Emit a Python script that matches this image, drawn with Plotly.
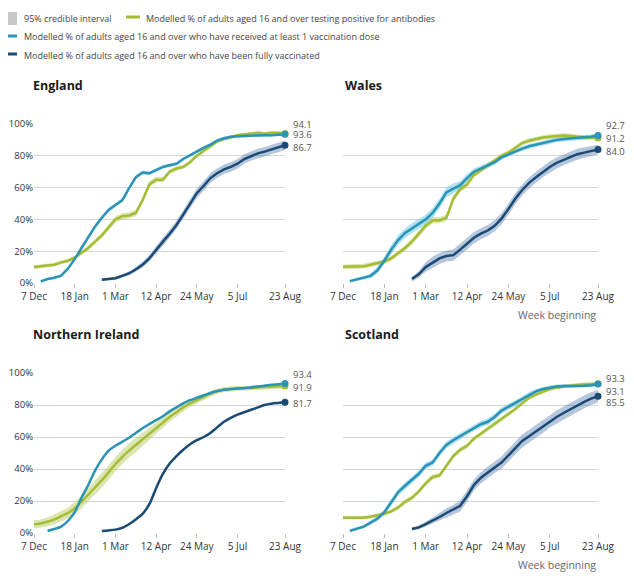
import plotly.graph_objects as go

# ---------------- data ----------------
WEEKS = ["2020-12-07", "2020-12-14", "2020-12-21", "2020-12-28", "2021-01-04", "2021-01-11",
         "2021-01-18", "2021-01-25", "2021-02-01", "2021-02-08", "2021-02-15", "2021-02-22",
         "2021-03-01", "2021-03-08", "2021-03-15", "2021-03-22", "2021-03-29", "2021-04-05",
         "2021-04-12", "2021-04-19", "2021-04-26", "2021-05-03", "2021-05-10", "2021-05-17",
         "2021-05-24", "2021-05-31", "2021-06-07", "2021-06-14", "2021-06-21", "2021-06-28",
         "2021-07-05", "2021-07-12", "2021-07-19", "2021-07-26", "2021-08-02", "2021-08-09",
         "2021-08-16", "2021-08-23"]

TICK_DATES = ["2020-12-07", "2021-01-18", "2021-03-01", "2021-04-12", "2021-05-24", "2021-07-05", "2021-08-23"]
TICK_LABELS = ["7 Dec", "18 Jan", "1 Mar", "12 Apr", "24 May", "5 Jul", "23 Aug"]
Y_TICKS = [0, 20, 40, 60, 80, 100]
Y_LABELS = ["0%", "20%", "40%", "60%", "80%", "100%"]

NATIONS = ["England", "Wales", "Northern Ireland", "Scotland"]
CI_NAME = "95% credible interval"
SERIES_NAMES = ["Modelled % of adults aged 16 and over testing positive for antibodies",
                "Modelled % of adults aged 16 and over who have received at least 1 vaccination dose",
                "Modelled % of adults aged 16 and over who have been fully vaccinated"]
N = None

# England
ENG_AB = [10, 10.5, 11, 11.5, 13, 14, 16, 19, 22, 26, 30, 35, 40, 42, 42.5, 44, 52, 62, 65, 65,
          70, 72, 73, 76, 80, 83, 86, 89, 90.5, 91.5, 93, 93.5, 94, 94.5, 94, 94.5, 94.5, 94.1]
ENG_D1 = [N, 1, 2.5, 3.3, 4.6, 9, 15, 22, 29, 35.5, 41, 46, 49, 52, 59.5, 66.5, 69.5, 69, 71, 73,
          74, 75, 78, 80.5, 83, 85, 87, 89.5, 91, 92, 92.3, 92.5, 93, 93, 93, 93, 93.3, 93.6]
ENG_FV = [N, N, N, N, N, N, N, N, N, N, 2, 2.5, 3, 4.5, 6, 8.5, 11.5, 15.5, 21, 26,
          31, 36.5, 43, 50, 56.5, 61, 66, 69, 71.5, 73, 75, 78, 80, 81.5, 82.6, 84, 85.4, 86.7]
ENG_AB_HW = [1.2, 1.2, 1.2, 1.2, 1.2, 1.2, 1.2, 1.3, 1.4, 1.5, 1.6, 1.8, 2, 2, 2, 2, 2, 2, 1.8, 1.6,
             1.5, 1.4, 1.3, 1.2, 1.2, 1.1, 1, 1, 1, 1, 1, 1, 1, 1, 1, 1, 1, 1]
ENG_D1_HW = [0, 0.8, 0.8, 0.8, 0.8, 1, 1, 1.2, 1.2, 1.2, 1.2, 1.2, 1.2, 1.2, 1.2, 1.2, 1.2, 1.2, 1.1, 1,
             1, 1, 1, 1, 1, 1, 1, 1, 1, 1, 1, 1, 1, 1, 1, 1, 1, 1]
ENG_FV_HW = [0, 0, 0, 0, 0, 0, 0, 0, 0, 0, 0.8, 0.8, 1, 1, 1.2, 1.5, 1.8, 2, 2.2, 2.4,
             2.5, 2.6, 2.8, 3, 3, 3, 3, 3, 3, 3, 3, 3, 3, 3, 3, 3, 3, 3]

# Wales
WAL_AB = [10.2, 10.3, 10.4, 10.6, 11.5, 12.5, 13.5, 15.5, 18.5, 22, 26, 31, 36, 39.5, 39.5, 41, 53, 59, 62, 68,
          71, 74, 77, 80, 82, 85, 88, 89.5, 90.5, 91.5, 92, 92.5, 92.7, 92.5, 92, 91.5, 91.5, 91.2]
WAL_D1 = [N, 1.2, 2.3, 3.2, 4.5, 8, 14, 21, 27, 31.5, 34.5, 37, 40, 44, 50, 57, 59.5, 61.5, 66, 70,
          72, 74, 76, 79, 81, 83, 84.5, 86, 87, 88, 89, 90, 90.5, 91, 91.3, 91.6, 92, 92.7]
WAL_FV = [N, N, N, N, N, N, N, N, N, N, 2.5, 5.5, 10, 13, 15.5, 17, 17.5, 21, 24.5, 28.5,
          31, 33, 36, 40.5, 46.5, 53, 58.5, 63, 66.5, 70, 73, 75.5, 77.5, 79.5, 81, 82, 83, 84]
WAL_AB_HW = [1.5, 1.5, 1.5, 1.5, 1.5, 1.5, 1.5, 1.5, 1.6, 1.8, 2, 2, 2, 2, 2, 2, 2, 2, 1.8, 1.6,
             1.5, 1.5, 1.5, 1.5, 1.5, 1.5, 1.5, 1.5, 1.5, 1.5, 1.5, 1.5, 1.5, 1.5, 1.5, 1.5, 1.5, 1.5]
WAL_D1_HW = [0, 1, 1, 1.2, 1.5, 2, 2.5, 3, 3, 3, 3, 3, 3, 3, 3, 3, 3, 2.5, 2.5, 2,
             2, 1.8, 1.6, 1.5, 1.5, 1.5, 1.5, 1.5, 1.5, 1.5, 1.5, 1.5, 1.5, 1.5, 1.5, 1.5, 1.5, 1.5]
WAL_FV_HW = [0, 0, 0, 0, 0, 0, 0, 0, 0, 0, 1.5, 2, 3, 3.5, 3.5, 3.5, 3.5, 3.5, 3.5, 3.5,
             3.5, 3.5, 3.5, 3.5, 3.5, 3.5, 3.5, 3.5, 3.5, 3.5, 3.5, 3.5, 3.5, 3.5, 3.5, 3.2, 3, 3]

# Northern Ireland
NI_AB = [5.4, 6, 7, 8.5, 10.5, 12.5, 15.5, 19.5, 24, 28.5, 33, 38, 43, 47.5, 51.5, 55, 58.5, 62, 65.5, 69,
         72.5, 75.5, 78.5, 81, 83, 85, 87, 88.5, 89.5, 90, 90.3, 90.5, 90.7, 91, 91.2, 91.4, 91.7, 91.9]
NI_D1 = [N, N, 1.3, 2.5, 4, 7.5, 13, 22, 30, 39, 46, 51.5, 54.5, 57, 59.5, 62.5, 65.5, 68, 70.5, 73,
         76, 78.5, 81, 83, 84.5, 86, 87.5, 88.7, 89.5, 90, 90.3, 90.7, 91, 91.5, 92, 92.6, 93, 93.4]
NI_FV = [N, N, N, N, N, N, N, N, N, N, 1.3, 1.6, 2.1, 3.2, 5.5, 8.5, 12, 18, 28, 37,
         43.5, 48, 52, 55.5, 58, 60, 62.5, 66, 69.5, 72, 74, 75.5, 77, 78.5, 80, 80.8, 81.3, 81.7]
NI_AB_HW = [2.5, 2.5, 2.8, 3, 3.2, 3.5, 3.8, 4, 4.2, 4.5, 4.5, 4.5, 4.5, 4.5, 4.5, 4.3, 4, 3.8, 3.5, 3.2,
            3, 2.8, 2.5, 2.3, 2, 2, 1.8, 1.7, 1.6, 1.5, 1.5, 1.5, 1.5, 1.5, 1.5, 1.5, 1.5, 1.5]
NI_D1_HW = [0, 0, 0.5, 0.5, 0.5, 0.5, 0.5, 0.5, 0.5, 0.5, 0.5, 0.5, 0.5, 0.5, 0.5, 0.5, 0.5, 0.5, 0.5, 0.5,
            0.5, 0.5, 0.5, 0.5, 0.5, 0.5, 0.5, 0.5, 0.5, 0.5, 0.5, 0.5, 0.5, 0.5, 0.5, 0.5, 0.5, 0.5]
NI_FV_HW = [0, 0, 0, 0, 0, 0, 0, 0, 0, 0, 0.4, 0.4, 0.4, 0.4, 0.4, 0.4, 0.4, 0.4, 0.4, 0.4,
            0.4, 0.4, 0.4, 0.4, 0.4, 0.4, 0.4, 0.4, 0.4, 0.4, 0.4, 0.4, 0.4, 0.4, 0.4, 0.4, 0.4, 0.4]

# Scotland
SCO_AB = [9.6, 9.6, 9.6, 9.6, 10.2, 11, 12, 13.5, 16, 19.5, 22, 26, 31, 35, 36, 42, 48, 52, 54.5, 59,
          62, 65, 68, 71, 74, 77.5, 81, 84.5, 86.5, 88.5, 90, 91, 91.6, 92, 92.5, 92.8, 93, 93.3]
SCO_D1 = [N, 1.3, 2.7, 4, 6.5, 9, 13, 19, 25.5, 29.5, 33, 37, 42, 44, 50, 55, 58, 60.5, 63.5, 66,
          68, 69.5, 72.5, 76.5, 79, 81, 83.5, 86.5, 88.5, 90, 91, 91.6, 91.8, 91.8, 91.8, 92, 92.3, 93.1]
SCO_FV = [N, N, N, N, N, N, N, N, N, N, 2.5, 3.5, 5.5, 7.5, 10, 12.5, 14.5, 17, 23, 30,
          34.5, 38, 41, 44, 48.5, 53, 57.5, 60.5, 63.5, 66.5, 70, 72.5, 75, 77.5, 79.5, 82, 84, 85.5]
SCO_AB_HW = [1.2, 1.2, 1.2, 1.2, 1.2, 1.2, 1.2, 1.2, 1.3, 1.4, 1.5, 1.5, 1.5, 1.5, 1.5, 1.5, 1.5, 1.5, 1.5, 1.5,
             1.5, 1.5, 1.4, 1.3, 1.2, 1.2, 1.2, 1.2, 1.2, 1.2, 1.2, 1.2, 1.2, 1.2, 1.2, 1.2, 1.2, 1.2]
SCO_D1_HW = [0, 1, 1, 1, 1.2, 1.5, 1.8, 2, 2, 2, 2, 2, 2, 2, 2, 2, 2, 2, 2, 2,
             2, 2, 2, 2, 2, 2, 1.8, 1.6, 1.5, 1.2, 1.2, 1.2, 1.2, 1.2, 1.2, 1.2, 1.2, 1.2]
SCO_FV_HW = [0, 0, 0, 0, 0, 0, 0, 0, 0, 0, 1, 1.2, 1.5, 2, 2.5, 3, 3, 3.5, 3.5, 3.5,
             3.5, 3.5, 3.5, 3.8, 4, 4, 4, 4, 4, 4, 4, 4, 4, 4, 4, 4, 4, 4]

DATA = {
    "England": [(ENG_AB, ENG_AB_HW), (ENG_D1, ENG_D1_HW), (ENG_FV, ENG_FV_HW)],
    "Wales": [(WAL_AB, WAL_AB_HW), (WAL_D1, WAL_D1_HW), (WAL_FV, WAL_FV_HW)],
    "Northern Ireland": [(NI_AB, NI_AB_HW), (NI_D1, NI_D1_HW), (NI_FV, NI_FV_HW)],
    "Scotland": [(SCO_AB, SCO_AB_HW), (SCO_D1, SCO_D1_HW), (SCO_FV, SCO_FV_HW)],
}

# ---------------- styling ----------------
FONT = "Open Sans"
LINE_COLORS = ["#a3be34", "#2a93b6", "#1b4a74"]
BAND_COLORS = ["rgba(163,190,52,0.38)", "rgba(110,200,232,0.55)", "rgba(80,118,172,0.42)"]
CI_COLOR = "#c8c8c8"
OFF = 8                     # page body margin of the html page
W, H = 634 - OFF, 579 - OFF


def fx(px):
    return (px - OFF) / W


def fy(px):
    return 1 - (px - OFF) / H


PANELS = {
    "England": dict(ax="", x=(34, 285), y=(124, 283), ylabels=True, week=False, tx=31,
                    yshift=[9, 0, -2]),
    "Wales": dict(ax="2", x=(343, 598), y=(124, 283), ylabels=False, week=True, tx=343,
                  yshift=[-1, 10, -2]),
    "Northern Ireland": dict(ax="3", x=(34, 285), y=(373, 533), ylabels=True, week=False, tx=31,
                             yshift=[-2, 9, -1]),
    "Scotland": dict(ax="4", x=(343, 598), y=(373, 533), ylabels=False, week=True, tx=343,
                     yshift=[5, -7, -6]),
}
SPLINE = {"Northern Ireland"}

fig = go.Figure()
annotations = []
shapes = []

for nation in NATIONS:
    p = PANELS[nation]
    xa, ya = "x" + p["ax"], "y" + p["ax"]
    shape = "spline" if nation in SPLINE else "linear"
    series = DATA[nation]
    # bands
    for k, (vals, hw) in enumerate(series):
        xs = [d for d, v in zip(WEEKS, vals) if v is not None]
        up = [v + h for v, h in zip(vals, hw) if v is not None]
        lo = [v - h for v, h in zip(vals, hw) if v is not None]
        fig.add_trace(go.Scatter(x=xs + xs[::-1], y=up + lo[::-1], fill="toself",
                                 fillcolor=BAND_COLORS[k], line=dict(width=0, shape=shape),
                                 mode="lines", hoverinfo="skip", showlegend=False,
                                 name=CI_NAME, xaxis=xa, yaxis=ya))
    # lines
    for k, (vals, hw) in enumerate(series):
        fig.add_trace(go.Scatter(x=WEEKS, y=vals, mode="lines", name=SERIES_NAMES[k],
                                 line=dict(color=LINE_COLORS[k], width=2.5, shape=shape),
                                 showlegend=False, xaxis=xa, yaxis=ya))
    # end markers and value labels
    for k, (vals, hw) in enumerate(series):
        fig.add_trace(go.Scatter(x=[WEEKS[-1]], y=[vals[-1]], mode="markers",
                                 marker=dict(color=LINE_COLORS[k], size=7),
                                 cliponaxis=False, showlegend=False, hoverinfo="skip",
                                 xaxis=xa, yaxis=ya))
        annotations.append(dict(x=WEEKS[-1], y=vals[-1], xref=xa, yref=ya,
                                text=f"{vals[-1]:.1f}", showarrow=False,
                                xanchor="left", yanchor="middle", xshift=6,
                                yshift=p["yshift"][k],
                                font=dict(family=FONT, size=9.5, color="#555555")))
    # title
    annotations.append(dict(x=fx(p["tx"]), y=fy(p["y"][0] - 39), xref="paper", yref="paper",
                            text=f"<b>{nation}</b>", showarrow=False, xanchor="left",
                            yanchor="middle", font=dict(family=FONT, size=12.5, color="#1a1a1a")))
    if p["week"]:
        annotations.append(dict(x=fx(p["x"][1]), y=fy(p["y"][1] + 32), xref="paper",
                                yref="paper", text="Week beginning", showarrow=False,
                                xanchor="right", yanchor="middle",
                                font=dict(family=FONT, size=10.5, color="#666666")))

    xdom = [fx(p["x"][0]), fx(p["x"][1])]
    ydom = [fy(p["y"][1]), fy(p["y"][0])]
    fig.update_layout(**{
        "xaxis" + p["ax"]: dict(domain=xdom, anchor=ya, type="date",
                                range=[WEEKS[0], WEEKS[-1]], tickvals=TICK_DATES,
                                ticktext=TICK_LABELS, ticks="outside", ticklen=4,
                                tickcolor="#bbbbbb", showgrid=False, zeroline=False,
                                showline=False, automargin=False,
                                tickfont=dict(family=FONT, size=10, color="#333333")),
        "yaxis" + p["ax"]: dict(domain=ydom, anchor=xa, range=[0, 100], tickvals=Y_TICKS,
                                ticktext=Y_LABELS, showticklabels=p["ylabels"],
                                showgrid=True, gridcolor="#d6d6d6", gridwidth=1,
                                zeroline=False, showline=False, ticks="", automargin=False,
                                tickfont=dict(family=FONT, size=9.5, color="#333333")),
    })

# ---------------- key (legend) ----------------
LEG_FONT = dict(family=FONT, size=9, color="#444444")
shapes.append(dict(type="rect", xref="paper", yref="paper", x0=fx(8), x1=fx(17),
                   y0=fy(25), y1=fy(12), fillcolor=CI_COLOR, line=dict(width=0)))
annotations.append(dict(x=fx(22), y=fy(18), xref="paper", yref="paper", text=CI_NAME,
                        showarrow=False, xanchor="left", yanchor="middle", font=LEG_FONT))
KEY_POS = [(126, 140, 17, 144), (8, 17, 36, 22), (8, 17, 54, 22)]
for k, (x0, x1, yk, xt) in enumerate(KEY_POS):
    shapes.append(dict(type="line", xref="paper", yref="paper", x0=fx(x0), x1=fx(x1),
                       y0=fy(yk), y1=fy(yk), line=dict(color=LINE_COLORS[k], width=3)))
    annotations.append(dict(x=fx(xt), y=fy(yk + 1), xref="paper", yref="paper",
                            text=SERIES_NAMES[k], showarrow=False, xanchor="left",
                            yanchor="middle", font=LEG_FONT))

fig.update_layout(
    width=W, height=H,
    margin=dict(l=0, r=0, t=0, b=0),
    paper_bgcolor="white", plot_bgcolor="white",
    font=dict(family=FONT, size=10, color="#333333"),
    annotations=annotations,
    shapes=shapes,
    showlegend=False,
)

fig.write_html("out.html")
